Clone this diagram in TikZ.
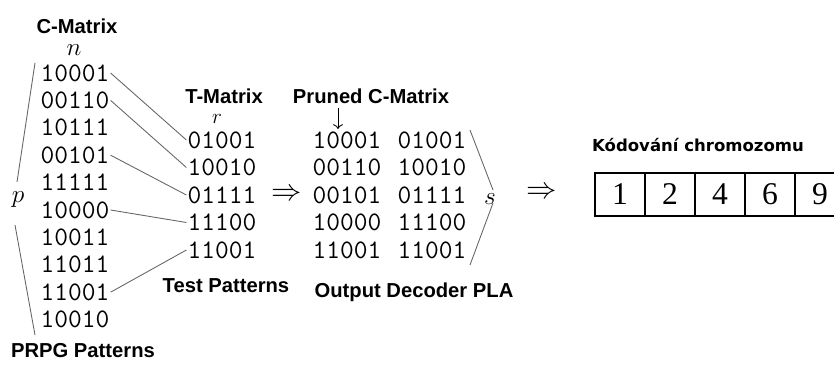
\documentclass[tikz,border=0pt]{standalone}
\usepackage{amsmath}
\usepackage{fontspec}
\newfontfamily\labelfont{Liberation Sans}
\newfontfamily\czfont{DejaVu Sans}
\newfontfamily\genefont{Liberation Serif}
\usetikzlibrary{arrows.meta}

\begin{document}
\begin{tikzpicture}[x=0.02cm,y=-0.02cm,
  bits/.style={font=\fontsize{15.2}{18}\selectfont\ttfamily,inner sep=0.5pt},
  lbl/.style={font=\fontsize{11.5}{13}\selectfont\labelfont\bfseries,text height=8.2pt,text depth=0pt,inner sep=0pt},
  sym/.style={font=\fontsize{14}{15}\selectfont,inner sep=0pt},
  link/.style={black!60,line width=0.5pt},
  gene/.style={draw,line width=0.6pt,minimum width=1cm,minimum height=0.86cm,inner sep=0pt,outer sep=0pt,font=\fontsize{18}{20}\selectfont\genefont}]
  \useasboundingbox (0,0) rectangle (834,365);
  \clip (0,0) rectangle (834,365);
  % C-Matrix
  \node[lbl] (cmat) at (77,26) {C-Matrix};
  \node[sym] (n) at (74,50) {$n$};
  \foreach \b [count=\i] in {10001,00110,10111,00101,11111,10000,10011,11011,11001,10010}
    \node[bits] (c\i) at (75,{73+27.4*(\i-1)}) {\b};
  \node[lbl] (prpg) at (83,350) {PRPG Patterns};
  \node[sym,font=\fontsize{15.5}{16}\selectfont] (p) at (18,200) {$p$};
  \coordinate (pa) at (35,63);
  \coordinate (pb) at (17,182);
  \coordinate (pc) at (15,225);
  \coordinate (pd) at (35,335);
  \draw[link] (pa) -- (pb);
  \draw[link] (pc) -- (pd);
  % T-Matrix
  \node[lbl] (tmat) at (224,96) {T-Matrix};
  \node[sym,font=\fontsize{12.5}{13}\selectfont] (r) at (217,119) {$r$};
  \foreach \b [count=\i] in {01001,10010,01111,11100,11001}
    \node[bits] (t\i) at (222,{140+27.5*(\i-1)}) {\b};
  \node[lbl] (test) at (226,285) {Test Patterns};
  \foreach \a/\b in {1/1,2/2,4/3,6/4,9/5}
    \draw[link] (c\a.east) -- (t\b.west);
  \node[font=\fontsize{19}{20}\selectfont,inner sep=0pt] (imp1) at (287,195) {$\Rightarrow$};
  % pruned C-Matrix and PLA
  \node[lbl] (pruned) at (371,96) {Pruned C-Matrix};
  \coordinate (qa) at (338,108);
  \coordinate (qb) at (338,129);
  \draw[->,line width=0.5pt] (qa) -- (qb);
  \foreach \b [count=\i] in {10001,00110,00101,10000,11001}
    \node[bits] (l\i) at (347,{140+27.5*(\i-1)}) {\b};
  \foreach \b [count=\i] in {01001,10010,01111,11100,11001}
    \node[bits] (o\i) at (432,{140+27.5*(\i-1)}) {\b};
  \node[lbl] (pla) at (414,290) {Output Decoder PLA};
  \node[sym,font=\fontsize{15}{16}\selectfont] (s) at (490,199) {$s$};
  \coordinate (sa) at (470,130);
  \coordinate (sb) at (493,190);
  \coordinate (sc) at (493,203);
  \coordinate (sd) at (470,265);
  \draw[link] (sa) -- (sb);
  \draw[link] (sc) -- (sd);
  \node[font=\fontsize{19}{20}\selectfont,inner sep=0pt] (imp2) at (542,193) {$\Rightarrow$};
  % chromosome
  \node[font=\fontsize{9.4}{11}\selectfont\czfont\bfseries,text height=6.9pt,text depth=0pt,inner sep=0pt] (chrom) at (698,145) {Kódování chromozomu};
  \foreach \g [count=\i] in {1,2,4,6,9}
    \node[gene] (g\i) at ({620+50*(\i-1)},194.5) {\g};
\end{tikzpicture}
\end{document}
